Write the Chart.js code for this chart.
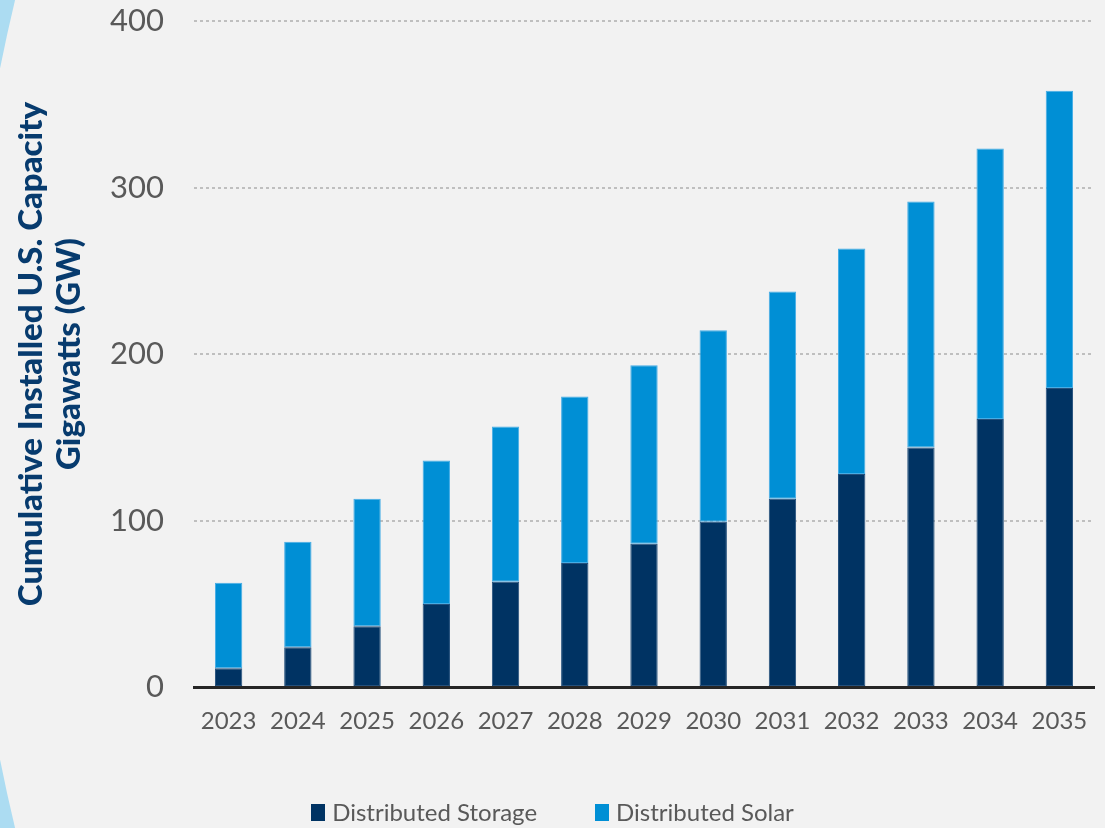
<!DOCTYPE html>
<html>
<head>
<meta charset="utf-8">
<script src="https://cdn.jsdelivr.net/npm/chart.js@4/dist/chart.umd.min.js"></script>
<style>
  html, body { margin: 0; padding: 0; background: #f2f2f2; }
  #wrap { position: relative; width: 1105px; height: 828px; overflow: hidden; }
  #legend {
    position: absolute; left: 0; top: 797px; width: 1105px;
    display: flex; justify-content: center; gap: 58px;
    font-family: Lato, sans-serif; font-size: 24px; color: #595959; line-height: 30px;
  }
  .legend-item { display: flex; align-items: center; }
  .legend-swatch { width: 14px; height: 17px; margin-right: 7px; }
</style>
</head>
<body>
<div id="wrap">
  <canvas id="chart" width="1105" height="828"></canvas>
  <div id="legend"></div>
</div>
<script>
// ── Data ────────────────────────────────────────────────
const years = ['2023', '2024', '2025', '2026', '2027', '2028', '2029',
               '2030', '2031', '2032', '2033', '2034', '2035'];
const storageGW = [11.3, 23.9, 36.5, 49.8, 63.2, 74.4, 86.1, 99.3, 113.1, 127.9, 143.8, 160.9, 179.6];
const solarGW = [51.3, 63.4, 76.6, 86.3, 93.2, 100.0, 107.1, 114.9, 124.4, 135.4, 147.8, 162.5, 178.5];
const yTicks = [0, 100, 200, 300, 400];
const axisTitle = ['Cumulative Installed U.S. Capacity', 'Gigawatts (GW)'];

const seriesNames = ['Distributed Storage', 'Distributed Solar'];
const seriesColors = ['#003363', '#008fd5'];
const seriesBorders = ['#24507c', '#45ade6'];

// background with the light blue corners on the left
const backdrop = {
  id: 'backdrop',
  beforeDraw(chart) {
    const { ctx, width, height } = chart;
    ctx.save();
    ctx.fillStyle = '#acdcf2';
    ctx.fillRect(0, 0, width, height);
    ctx.fillStyle = '#f2f2f2';
    ctx.beginPath();
    ctx.arc(1737, 414, 1771, 0, Math.PI * 2);
    ctx.fill();
    ctx.restore();
  }
};

const ctx = document.getElementById('chart');
new Chart(ctx, {
  type: 'bar',
  data: {
    labels: years,
    datasets: [storageGW, solarGW].map((vals, i) => ({
      label: seriesNames[i],
      data: vals,
      backgroundColor: seriesColors[i],
      borderColor: seriesBorders[i],
      borderWidth: 1,
      borderSkipped: false,
      barPercentage: 0.395,
      categoryPercentage: 1
    }))
  },
  options: {
    responsive: false,
    animation: false,
    layout: { padding: { top: 0, right: 11, bottom: 0, left: 0 } },
    plugins: {
      legend: { display: false },
      tooltip: { enabled: false }
    },
    scales: {
      x: {
        stacked: true,
        grid: { display: false },
        border: { display: true, color: '#262626', width: 3 },
        ticks: {
          color: '#595959',
          font: { family: 'Lato', size: 24 },
          padding: 12,
          maxRotation: 0,
          autoSkip: false
        },
        afterFit(scale) { scale.height = 141; }
      },
      y: {
        stacked: true,
        min: 0,
        max: 400,
        afterBuildTicks(scale) { scale.ticks = yTicks.map(v => ({ value: v })); },
        grid: {
          drawTicks: false,
          lineWidth: 2,
          color: c => (c.tick && c.tick.value === 0 ? 'rgba(0,0,0,0)' : '#bfbfbf')
        },
        border: { display: false, dash: [3, 3] },
        ticks: {
          color: '#595959',
          font: { family: 'Lato', size: 31 },
          padding: 30
        },
        title: {
          display: true,
          text: axisTitle,
          color: '#073b6e',
          font: { family: 'Lato', size: 33, weight: 900, lineHeight: 1.15 },
          padding: { top: 12, bottom: 0 }
        },
        afterFit(scale) {
          scale.width = 194;
          scale.paddingTop = 21;
          scale.paddingBottom = 0;
        }
      }
    }
  },
  plugins: [backdrop]
});

// legend
const legend = document.getElementById('legend');
seriesNames.forEach((name, i) => {
  const item = document.createElement('div');
  item.className = 'legend-item';
  item.innerHTML = `<span class="legend-swatch" style="background:${seriesColors[i]}"></span><span>${name}</span>`;
  legend.appendChild(item);
});
</script>
</body>
</html>
